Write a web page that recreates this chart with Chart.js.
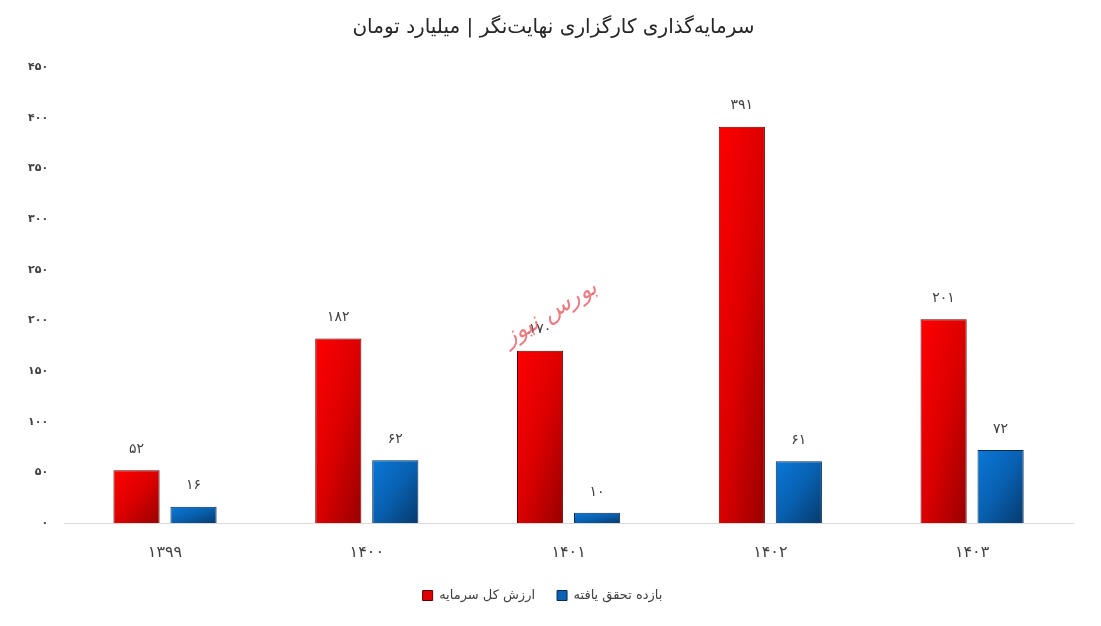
<!DOCTYPE html>
<html>
<head>
<meta charset="utf-8">
<script src="https://cdn.jsdelivr.net/npm/chart.js@4/dist/chart.umd.min.js"></script>
<style>
html,body{margin:0;padding:0;background:#fff;}
#wrap{width:1101px;height:626px;position:relative;}
</style>
</head>
<body>
<div id="wrap"><canvas id="c" width="1101" height="626"></canvas></div>
<script>
const categories = ['۱۳۹۹', '۱۴۰۰', '۱۴۰۱', '۱۴۰۲', '۱۴۰۳'];
const totalInvestment = [52, 182, 170, 391, 201];
const realizedReturn = [16, 62, 10, 61, 72];
const seriesNames = ['ارزش کل سرمایه', 'بازده تحقق یافته'];
const yTicks = [0, 50, 100, 150, 200, 250, 300, 350, 400, 450];
const titleText = 'سرمایه‌گذاری کارگزاری نهایت‌نگر | میلیارد تومان';
const watermarkText = 'بورس نیوز';

const FONT = "Tahoma, 'DejaVu Sans', sans-serif";
function fa(n){ return String(n).replace(/\d/g, d => '۰۱۲۳۴۵۶۷۸۹'[d]); }

const gradStops = [
  ['#ff0000', '#dc0000', '#980000'],
  ['#0a78d8', '#0860b0', '#063a6c']
];

const gradientPlugin = {
  id: 'gradBars',
  beforeDatasetsDraw(chart){
    const ctx = chart.ctx;
    chart.data.datasets.forEach((ds, di) => {
      const meta = chart.getDatasetMeta(di);
      meta.data.forEach(el => {
        const w = el.width, h = Math.max(1, el.base - el.y);
        const x0 = el.x - w/2, y0 = el.y;
        const n = Math.sqrt(w*w + h*h);
        const dx = h / n, dy = w / n, L = 2*w*h / n;
        const g = ctx.createLinearGradient(x0, y0, x0 + dx*L, y0 + dy*L);
        const s = gradStops[di];
        g.addColorStop(0, s[0]);
        g.addColorStop(0.5, s[1]);
        g.addColorStop(1, s[2]);
        el.options.backgroundColor = g;
      });
    });
  }
};

const labelPlugin = {
  id: 'valLabels',
  afterDatasetsDraw(chart){
    const ctx = chart.ctx;
    ctx.save();
    ctx.font = "14px " + FONT;
    ctx.fillStyle = '#404040';
    ctx.textAlign = 'center';
    ctx.textBaseline = 'middle';
    chart.data.datasets.forEach((ds, di) => {
      const meta = chart.getDatasetMeta(di);
      meta.data.forEach((el, i) => {
        ctx.fillText(fa(ds.data[i]), el.x, el.y - 21);
      });
    });
    ctx.restore();
  }
};

const titlePlugin = {
  id: 'customTitle',
  afterDraw(chart){
    const ctx = chart.ctx;
    ctx.save();
    ctx.font = "20px " + FONT;
    ctx.fillStyle = '#262626';
    ctx.textAlign = 'center';
    ctx.textBaseline = 'middle';
    ctx.direction = 'rtl';
    ctx.fillText(titleText, chart.width / 2 + 3, 28);
    ctx.restore();
  }
};

const watermarkPlugin = {
  id: 'watermark',
  afterDraw(chart){
    const ctx = chart.ctx;
    const xs = chart.scales.x, ys = chart.scales.y;
    ctx.save();
    ctx.translate(xs.getPixelForValue(2) - 18, ys.getPixelForValue(207));
    ctx.rotate(-0.55);
    ctx.font = "italic 24px " + FONT;
    ctx.fillStyle = 'rgba(225,70,80,0.7)';
    ctx.textAlign = 'center';
    ctx.textBaseline = 'middle';
    ctx.direction = 'rtl';
    ctx.fillText(watermarkText, 0, 0);
    ctx.restore();
  }
};

new Chart(document.getElementById('c'), {
  type: 'bar',
  data: {
    labels: categories,
    datasets: [
      { label: seriesNames[0], data: totalInvestment, backgroundColor: () => '#e00000', borderColor: '#5a0000', borderWidth: 1, borderSkipped: 'bottom' },
      { label: seriesNames[1], data: realizedReturn, backgroundColor: () => '#0a62b4', borderColor: '#0a2a50', borderWidth: 1, borderSkipped: 'bottom' }
    ]
  },
  options: {
    responsive: false,
    animation: false,
    devicePixelRatio: 1,
    categoryPercentage: 0.565,
    barPercentage: 0.81,
    layout: { padding: { left: 12, right: 28, top: 67, bottom: 14 } },
    plugins: {
      title: { display: false },
      legend: {
        position: 'bottom',
        labels: {
          color: '#404040', font: { family: FONT, size: 13 },
          boxWidth: 10, boxHeight: 10, padding: 22, useBorderRadius: false
        }
      },
      tooltip: { enabled: false }
    },
    scales: {
      x: {
        afterFit(axis){ axis.height = 44; },
        grid: { display: false, drawTicks: false },
        border: { display: true, color: '#d9d9d9', width: 1 },
        ticks: { color: '#404040', font: { family: FONT, size: 16 }, padding: 20 }
      },
      y: {
        min: 0, max: 450,
        afterBuildTicks(axis){ axis.ticks = yTicks.map(v => ({ value: v })); },
        grid: { display: false, drawTicks: false },
        border: { display: false },
        ticks: { color: '#404040', font: { family: FONT, size: 11, weight: 'bold' }, padding: 16,
          callback: v => fa(v) }
      }
    }
  },
  plugins: [gradientPlugin, labelPlugin, titlePlugin, watermarkPlugin]
});
</script>
</body>
</html>
